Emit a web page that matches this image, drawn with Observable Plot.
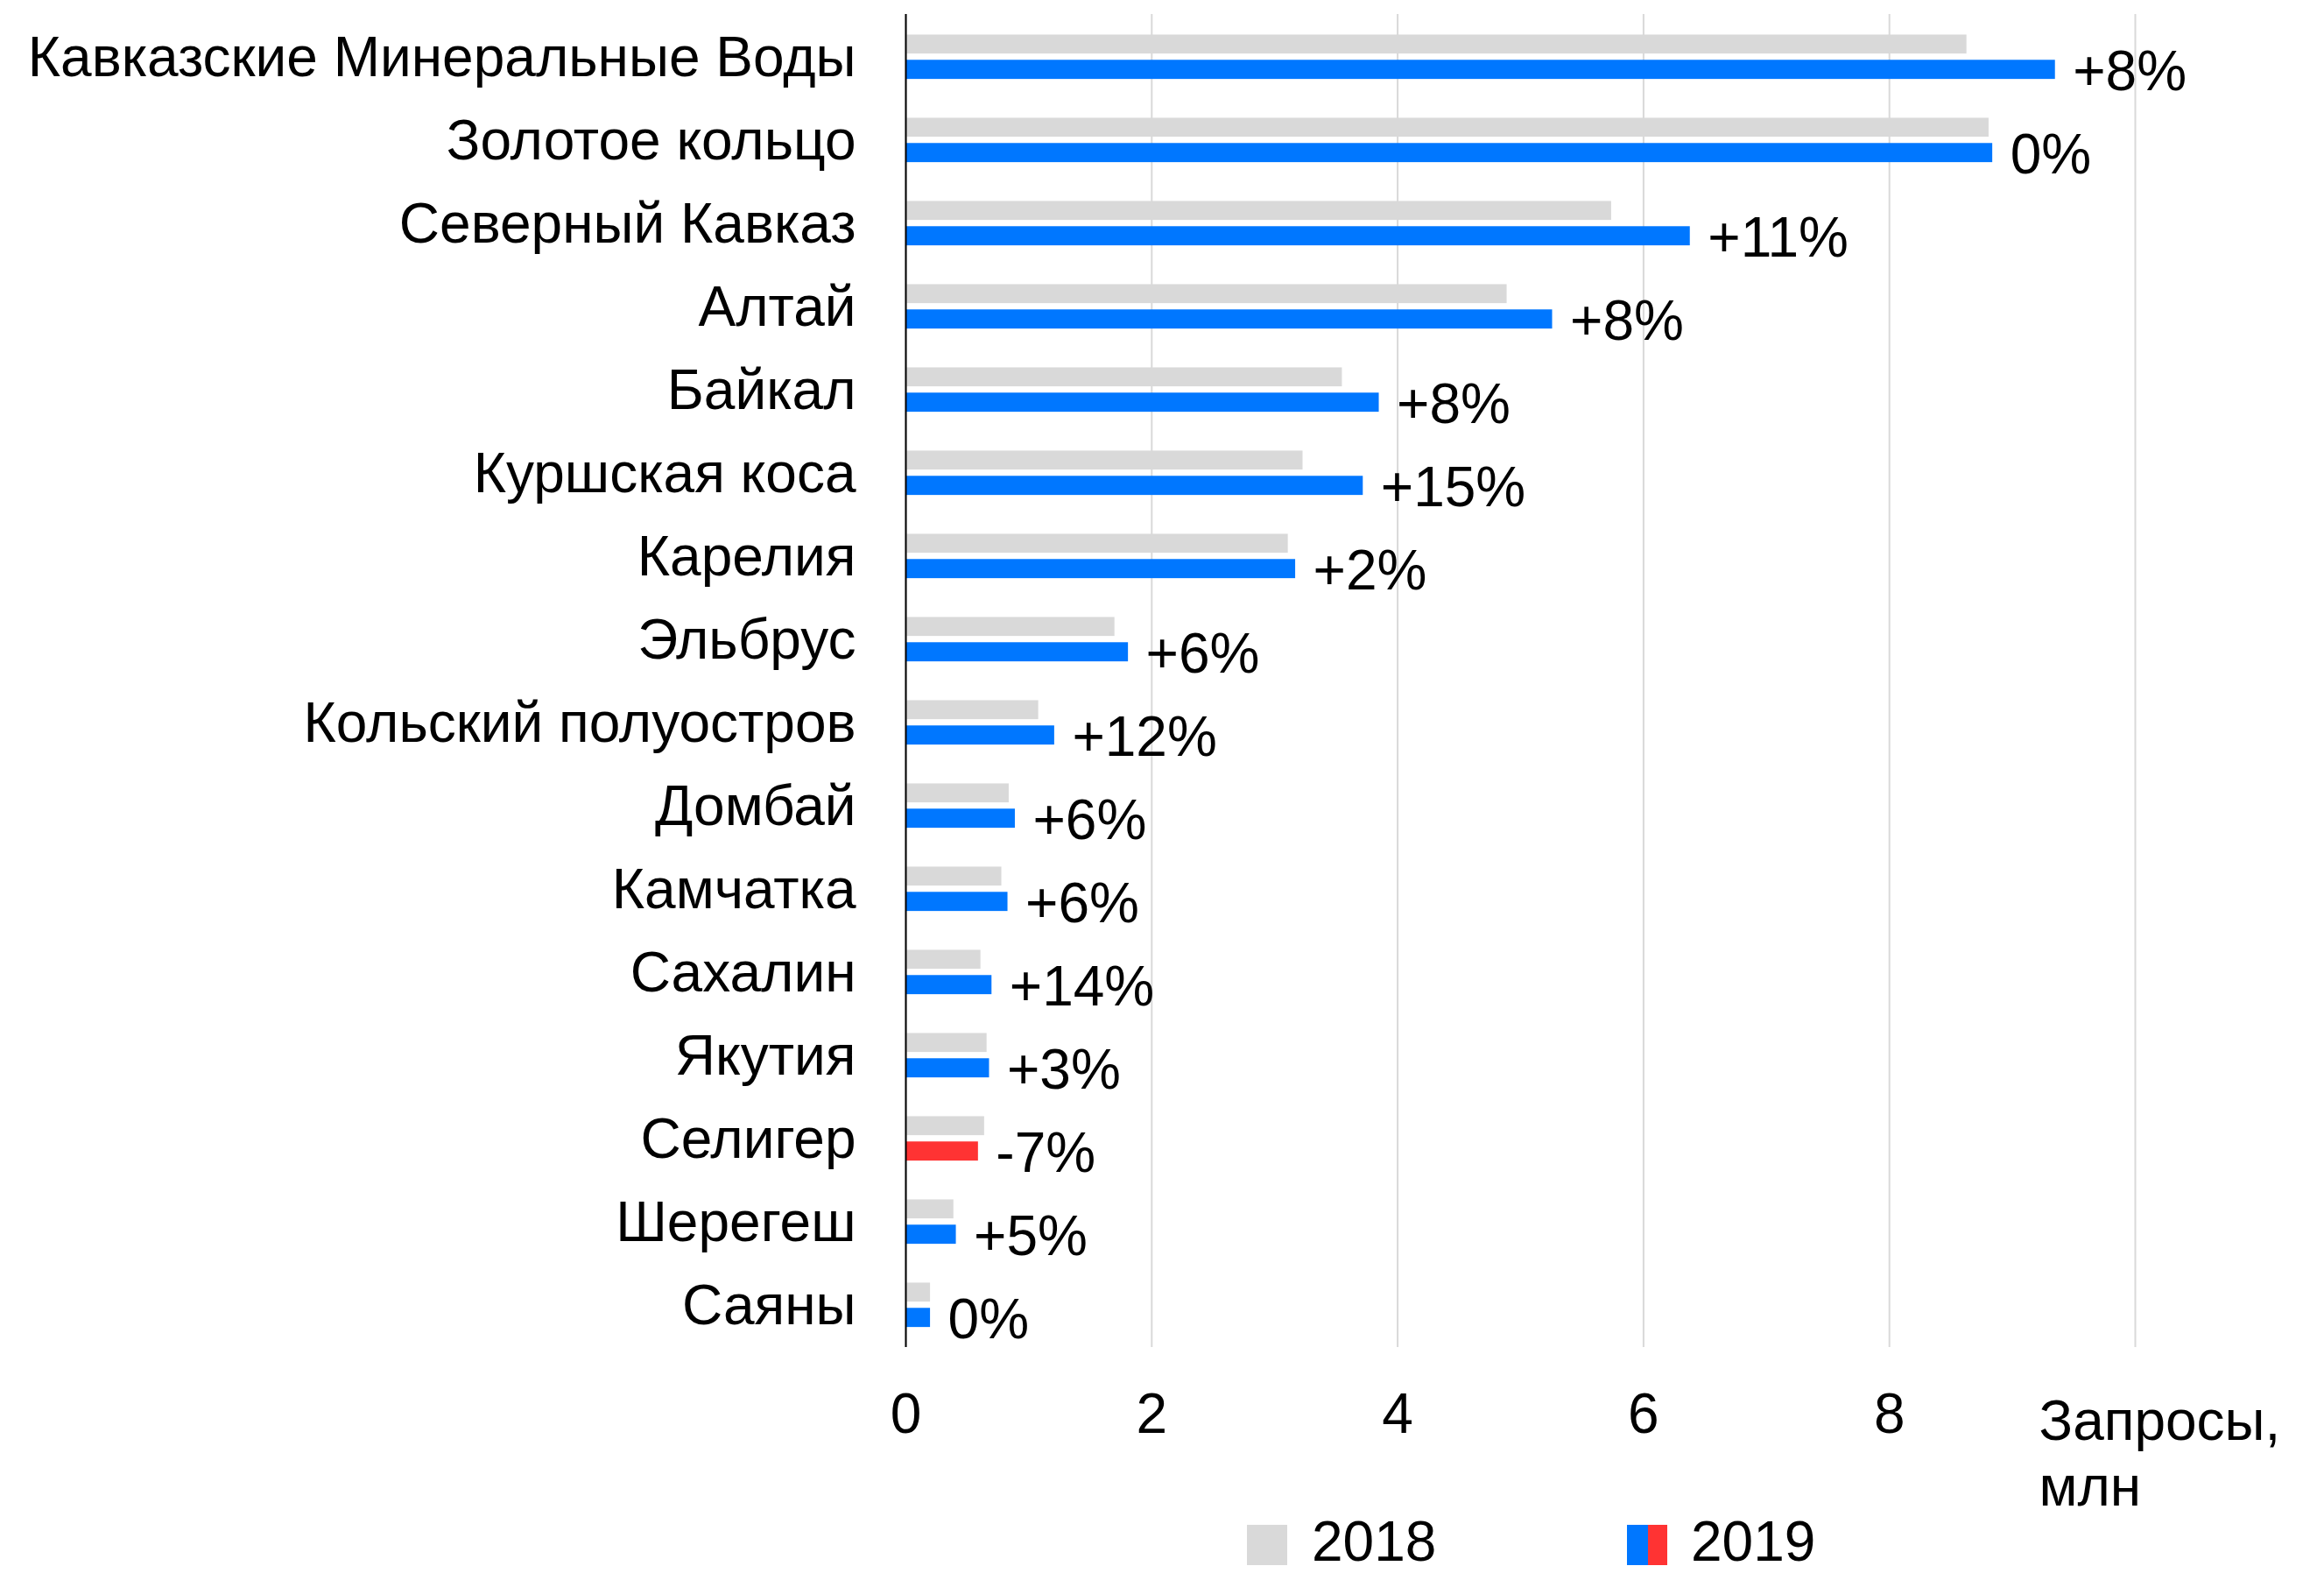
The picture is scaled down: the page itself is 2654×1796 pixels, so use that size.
<!DOCTYPE html>
<html>
<head>
<meta charset="utf-8">
<script src="https://cdn.jsdelivr.net/npm/d3@7"></script>
<script src="https://cdn.jsdelivr.net/npm/@observablehq/plot@0.6"></script>
<style>
  html, body { margin: 0; padding: 0; background: #fff; }
  body { width: 2654px; height: 1796px; overflow: hidden; font-family: "Liberation Sans", Arial, sans-serif; }
  #chart svg { display: block; }
  #legend { position: relative; width: 2654px; height: 61px; font-size: 64px; line-height: 50px; color: #000; }
  #legend .sw { position: absolute; top: 6px; width: 46px; height: 46px; }
  #legend .lbl { position: absolute; top: 0px; line-height: 50px; }
</style>
</head>
<body>
<div id="chart"></div>
<div id="legend"></div>
<script>
const regions = [
  "Кавказские Минеральные Воды",
  "Золотое кольцо",
  "Северный Кавказ",
  "Алтай",
  "Байкал",
  "Куршская коса",
  "Карелия",
  "Эльбрус",
  "Кольский полуостров",
  "Домбай",
  "Камчатка",
  "Сахалин",
  "Якутия",
  "Селигер",
  "Шерегеш",
  "Саяны"
];
const values2018 = [8.63, 8.81, 5.74, 4.89, 3.55, 3.23, 3.11, 1.70, 1.08, 0.84, 0.78, 0.61, 0.66, 0.64, 0.39, 0.20];
const values2019 = [9.35, 8.84, 6.38, 5.26, 3.85, 3.72, 3.17, 1.81, 1.21, 0.89, 0.83, 0.70, 0.68, 0.59, 0.41, 0.20];
const changeLabels = ["+8%", "0%", "+11%", "+8%", "+8%", "+15%", "+2%", "+6%", "+12%", "+6%", "+6%", "+14%", "+3%", "-7%", "+5%", "0%"];
const xTicks = [0, 2, 4, 6, 8];
const gridTicks = [0, 2, 4, 6, 8, 10];
const axisTitle = "Запросы,\nмлн";
const years = ["2018", "2019"];

const rows = regions.map((r, i) => ({
  region: r,
  v2018: values2018[i],
  v2019: values2019[i],
  change: changeLabels[i],
  trend: values2019[i] < values2018[i] ? "decline" : "growth"
}));

const GRAY = "#d9d9d9", BLUE = "#0077ff", RED = "#ff3333";
const W = 2654, H = 1735, mt = 16, mb = 197, ml = 1034, mr = 216;
const band = (H - mt - mb) / regions.length;

const chart = Plot.plot({
  width: W,
  height: H,
  marginTop: mt,
  marginBottom: mb,
  marginLeft: ml,
  marginRight: mr,
  style: {fontFamily: "'Liberation Sans', Arial, sans-serif", fontSize: "64px", color: "#000", background: "#fff"},
  x: {domain: [0, 10], ticks: xTicks, tickSize: 0, tickPadding: 52, label: null, tickFormat: d => String(d)},
  y: {domain: regions, padding: 0, tickSize: 0, tickPadding: 57, label: null},
  color: {domain: ["growth", "decline"], range: [BLUE, RED]},
  marks: [
    Plot.ruleX(gridTicks, {stroke: GRAY, strokeWidth: 2}),
    Plot.barX(rows, {y: "region", x1: 0, x2: "v2018", fill: GRAY, insetTop: band * 0.236, insetBottom: band * 0.535}),
    Plot.barX(rows, {y: "region", x1: 0, x2: "v2019", fill: "trend", insetTop: band * 0.539, insetBottom: band * 0.230}),
    Plot.ruleX([0], {stroke: "#000", strokeWidth: 2}),
    Plot.text(rows, {x: "v2019", y: "region", text: "change", textAnchor: "start", dx: 20, dy: 18, fontSize: 64, fill: "#000"}),
    Plot.text([axisTitle], {x: 10, frameAnchor: "bottom", lineAnchor: "top", textAnchor: "start", dx: -110, dy: 52, lineHeight: 1.17, fontSize: 64, fill: "#000"}),
    Plot.axisY({tickSize: 0, tickPadding: 57, dy: 2, fontSize: 64}),
    Plot.axisX({ticks: xTicks, tickSize: 0, tickPadding: 52, fontSize: 64})
  ]
});
document.getElementById("chart").appendChild(chart);

// legend below the SVG
const legend = d3.select("#legend");
legend.append("div").attr("class", "sw").style("left", "1424px").style("background", GRAY);
legend.append("div").attr("class", "lbl").style("left", "1498px").text(years[0]);
legend.append("div").attr("class", "sw").style("left", "1858px").style("width", "24px").style("background", BLUE);
legend.append("div").attr("class", "sw").style("left", "1882px").style("width", "22px").style("background", RED);
legend.append("div").attr("class", "lbl").style("left", "1931px").text(years[1]);
</script>
</body>
</html>
